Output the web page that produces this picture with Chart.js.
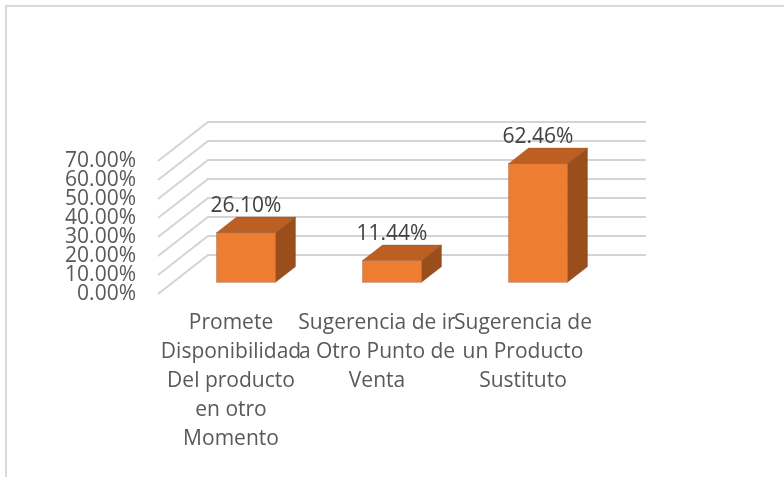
<!DOCTYPE html>
<html>
<head>
<meta charset="utf-8">
<script src="https://cdn.jsdelivr.net/npm/chart.js@4.4.1/dist/chart.umd.min.js"></script>
<style>
  html, body { margin: 0; padding: 0; background: #fff; }
  #wrap { position: relative; width: 784px; height: 477px; overflow: hidden; }
  #frame { position: absolute; left: 5px; top: 5px; width: 800px; height: 500px;
           border-top: 2px solid #d9d9d9; border-left: 2px solid #d9d9d9; }
  canvas { position: absolute; left: 0; top: 0; }
</style>
</head>
<body>
<div id="wrap">
  <div id="frame"></div>
  <canvas id="chart" width="784" height="477"></canvas>
</div>
<script>
// datos
const categorias = [
  ["Promete", "Disponibilidad", "Del producto", "en otro", "Momento"],
  ["Sugerencia de ir", "a Otro Punto de", "Venta"],
  ["Sugerencia de", "un Producto", "Sustituto"]
];
const porcentajes = [26.10, 11.44, 62.46];
const ticksY = [0, 10, 20, 30, 40, 50, 60, 70];

// colores de las caras
const colorFrente = "#ED7D31";
const colorArriba = "#BD5F22";
const colorLado = "#9A4E1C";
const colorGrid = "#d4d4d4";
const colorTexto = "#595959";

// profundidad de la pared (efecto 3D)
const prof = { dx: 50, dy: -39 };
const barraIni = 0.3, barraFin = 0.7;

const fuente = { family: "'Open Sans', sans-serif", size: 21 };

const plugin3D = {
  id: "barras3d",
  beforeDatasetsDraw(chart) {
    const ctx = chart.ctx;
    const y = chart.scales.y;
    const area = chart.chartArea;
    ctx.save();
    ctx.strokeStyle = colorGrid;
    ctx.lineWidth = 2;
    ticksY.forEach((v) => {
      const py = y.getPixelForValue(v);
      ctx.beginPath();
      ctx.moveTo(area.left, py);
      ctx.lineTo(area.left + prof.dx, py + prof.dy);
      ctx.lineTo(area.right + prof.dx, py + prof.dy);
      ctx.stroke();
    });
    ctx.restore();
  },
  afterDatasetsDraw(chart) {
    const ctx = chart.ctx;
    const meta = chart.getDatasetMeta(0);
    const ox = prof.dx * barraIni, oy = prof.dy * barraIni;
    const dx = prof.dx * (barraFin - barraIni), dy = prof.dy * (barraFin - barraIni);
    ctx.save();
    meta.data.forEach((bar, i) => {
      const l = bar.x - bar.width / 2 + ox;
      const r = bar.x + bar.width / 2 + ox;
      const t = bar.y + oy;
      const b = bar.base + oy;
      ctx.lineWidth = 0.6;
      ctx.strokeStyle = "rgba(120,70,40,0.5)";
      // cara superior
      ctx.fillStyle = colorArriba;
      ctx.beginPath();
      ctx.moveTo(l, t);
      ctx.lineTo(l + dx, t + dy);
      ctx.lineTo(r + dx, t + dy);
      ctx.lineTo(r, t);
      ctx.closePath();
      ctx.fill();
      ctx.stroke();
      // cara lateral
      ctx.fillStyle = colorLado;
      ctx.beginPath();
      ctx.moveTo(r, t);
      ctx.lineTo(r + dx, t + dy);
      ctx.lineTo(r + dx, b + dy);
      ctx.lineTo(r, b);
      ctx.closePath();
      ctx.fill();
      ctx.stroke();
      // cara frontal
      ctx.fillStyle = colorFrente;
      ctx.fillRect(l, t, r - l, b - t);
      ctx.strokeRect(l, t, r - l, b - t);
      // etiqueta de valor
      ctx.fillStyle = "#404040";
      ctx.font = fuente.size + "px " + fuente.family;
      ctx.textAlign = "center";
      ctx.textBaseline = "middle";
      ctx.fillText(porcentajes[i].toFixed(2) + "%", (l + r) / 2, t + dy - 11);
    });
    ctx.restore();
  }
};

const ctx = document.getElementById("chart").getContext("2d");
new Chart(ctx, {
  type: "bar",
  data: {
    labels: categorias,
    datasets: [{
      label: "Porcentaje",
      data: porcentajes,
      backgroundColor: "rgba(0,0,0,0)",
      borderWidth: 0,
      barPercentage: 1,
      categoryPercentage: 0.404
    }]
  },
  options: {
    responsive: false,
    animation: false,
    layout: { padding: { left: 0, right: 188, top: 161, bottom: 0 } },
    scales: {
      x: {
        grid: { display: false, drawTicks: false },
        border: { display: false },
        ticks: { color: colorTexto, font: { ...fuente, lineHeight: 1.38 }, padding: 15, maxRotation: 0, autoSkip: false },
        afterFit: (s) => { s.height = 477 - 294; }
      },
      y: {
        min: 0,
        max: 70,
        afterBuildTicks: (s) => { s.ticks = ticksY.map((v) => ({ value: v })); },
        grid: { display: false, drawTicks: false },
        border: { display: false },
        ticks: {
          color: colorTexto,
          font: fuente,
          padding: 22,
          autoSkip: false,
          callback: (v) => Number(v).toFixed(2) + "%"
        },
        afterFit: (s) => { s.width = 158; }
      }
    },
    plugins: {
      legend: { display: false },
      tooltip: { enabled: false }
    }
  },
  plugins: [plugin3D]
});
</script>
</body>
</html>
